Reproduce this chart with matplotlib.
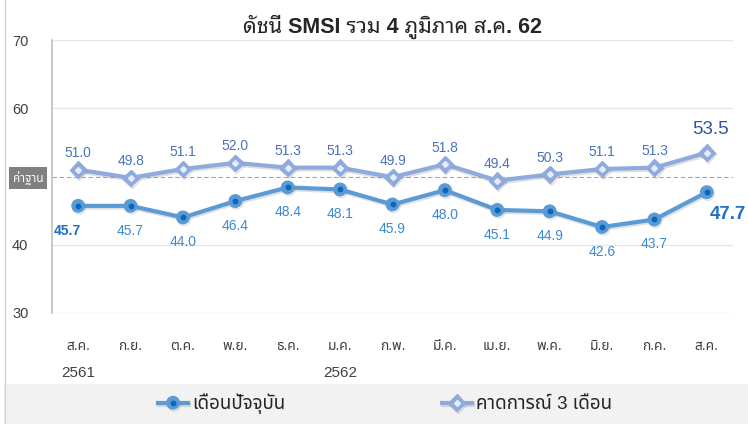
import matplotlib
matplotlib.use("Agg")
import matplotlib.pyplot as plt
import matplotlib.patheffects as pe
from matplotlib.lines import Line2D
from matplotlib.patches import Rectangle
from matplotlib.legend_handler import HandlerTuple
from matplotlib.transforms import blended_transform_factory

# --- data ---
months = ["ส.ค.", "ก.ย.", "ต.ค.", "พ.ย.", "ธ.ค.", "ม.ค.", "ก.พ.",
          "มี.ค.", "เม.ย.", "พ.ค.", "มิ.ย.", "ก.ค.", "ส.ค."]
years = {0: "2561", 5: "2562"}
current = [45.7, 45.7, 44.0, 46.4, 48.4, 48.1, 45.9, 48.0, 45.1, 44.9, 42.6, 43.7, 47.7]
forecast = [51.0, 49.8, 51.1, 52.0, 51.3, 51.3, 49.9, 51.8, 49.4, 50.3, 51.1, 51.3, 53.5]
base_level = 50
yticks = [30, 40, 50, 60, 70]

THAI = ["Liberation Sans", "Noto Sans Thai"]
TITLE_FONT = ["Liberation Sans", "Noto Sans Thai Looped", "Noto Sans Thai"]
NUM = ["Liberation Sans"]

c_cur = "#5B9BD5"
c_cur_dot = "#0B66BE"
c_fc = "#8FAADC"
c_fc_dot = "#E6ECF7"
c_cur_lab = "#3A8AD2"
c_fc_lab = "#4A72BE"

W, H = 748, 424
fig = plt.figure(figsize=(W / 100, H / 100), dpi=100)

# legend band and left border
fig.patches.append(Rectangle((4 / W, 0), 1, 40 / H, transform=fig.transFigure,
                             facecolor="#F2F2F2", edgecolor="none", zorder=0))
fig.lines.append(Line2D([4.5 / W, 4.5 / W], [0, 1], transform=fig.transFigure,
                        color="#D4D4D4", lw=1))

ax = fig.add_axes([52 / W, 1 - 313 / H, (733 - 52) / W, (313 - 40) / H])
ax.set_xlim(-0.5, len(months) - 0.5)
ax.set_ylim(30, 70)

for s in ["top", "right", "bottom"]:
    ax.spines[s].set_visible(False)
ax.spines["left"].set_color("#BFBFBF")
ax.spines["left"].set_linewidth(1.2)
for y in yticks:
    if y != base_level:
        ax.axhline(y, color="#E6E6E6", lw=1, zorder=0)
ax.axhline(base_level, color="#A6A6A6", lw=0.8, ls=(0, (4, 2.5)), zorder=1)

# the 50 label sits under the "ค่าฐาน" box in the original
ax.set_yticks(yticks)
ax.set_yticklabels(["" if v == base_level else str(v) for v in yticks],
                   family=NUM, fontsize=10.5, color="#404040")
ax.tick_params(axis="y", length=0, pad=17)
x = list(range(len(months)))
ax.set_xticks(x)
ax.set_xticklabels(months, family=THAI, fontsize=10, color="#404040")
ax.tick_params(axis="x", length=0, pad=19)

tr = blended_transform_factory(ax.transData, ax.transAxes)
for i, yr in years.items():
    ax.text(i, -0.22, yr, transform=tr, ha="center", va="center",
            family=NUM, fontsize=11, color="#404040")

shadow = [pe.SimpleLineShadow(offset=(0.8, -1.3), shadow_color="#808080", alpha=0.25),
          pe.Normal()]

l_fc, = ax.plot(x, forecast, color=c_fc, lw=3, marker="D", ms=8.5,
                zorder=3, path_effects=shadow)
d_fc, = ax.plot(x, forecast, ls="none", marker="D", ms=3, color=c_fc_dot, zorder=4)
l_cur, = ax.plot(x, current, color=c_cur, lw=3, marker="o", ms=9,
                 zorder=3, path_effects=shadow)
d_cur, = ax.plot(x, current, ls="none", marker="o", ms=3.2, color=c_cur_dot, zorder=4)

# data labels
n = len(months)
for i, v in enumerate(forecast):
    if i == n - 1:
        ax.annotate(f"{v:.1f}", (i, v), xytext=(3, 17), textcoords="offset points",
                    ha="center", va="center", fontsize=13.5, color="#2F5597",
                    family=NUM)
    else:
        ax.annotate(f"{v:.1f}", (i, v), xytext=(0, 12), textcoords="offset points",
                    ha="center", va="center", fontsize=10, color=c_fc_lab, family=NUM)
for i, v in enumerate(current):
    if i == 0:
        ax.annotate(f"{v:.1f}", (i, v), xytext=(-8, -18), textcoords="offset points",
                    ha="center", va="center", fontsize=10, color="#1F6FC5",
                    family=NUM, fontweight="bold")
    elif i == n - 1:
        ax.annotate(f"{v:.1f}", (i, v), xytext=(15, -16), textcoords="offset points",
                    ha="center", va="center", fontsize=13.5, color="#1F6FC5",
                    family=NUM, fontweight="bold")
    else:
        ax.annotate(f"{v:.1f}", (i, v), xytext=(0, -18), textcoords="offset points",
                    ha="center", va="center", fontsize=10, color=c_cur_lab, family=NUM)

# base label box over the 50 tick
fig.text(28 / W, 1 - 178 / H, "ค่าฐาน", ha="center", va="center", family=THAI,
         fontsize=8.5, color="white",
         bbox=dict(boxstyle="square,pad=0.35", facecolor="#808080", edgecolor="none"))

ax.set_title("ดัชนี SMSI รวม 4 ภูมิภาค ส.ค. 62", family=TITLE_FONT, fontweight="bold",
             fontsize=15.5, color="#262626", pad=5)

fig.legend([(l_cur, d_cur), (l_fc, d_fc)], ["เดือนปัจจุบัน", "คาดการณ์ 3 เดือน"],
           handler_map={tuple: HandlerTuple(ndivide=1)},
           loc="center", bbox_to_anchor=(0.515, 20 / H), ncol=2, frameon=False,
           prop={"family": THAI, "size": 13.5}, handlelength=1.6,
           handletextpad=0.25, columnspacing=8.3, labelcolor="#262626")

fig.savefig("out.png", dpi=100)
